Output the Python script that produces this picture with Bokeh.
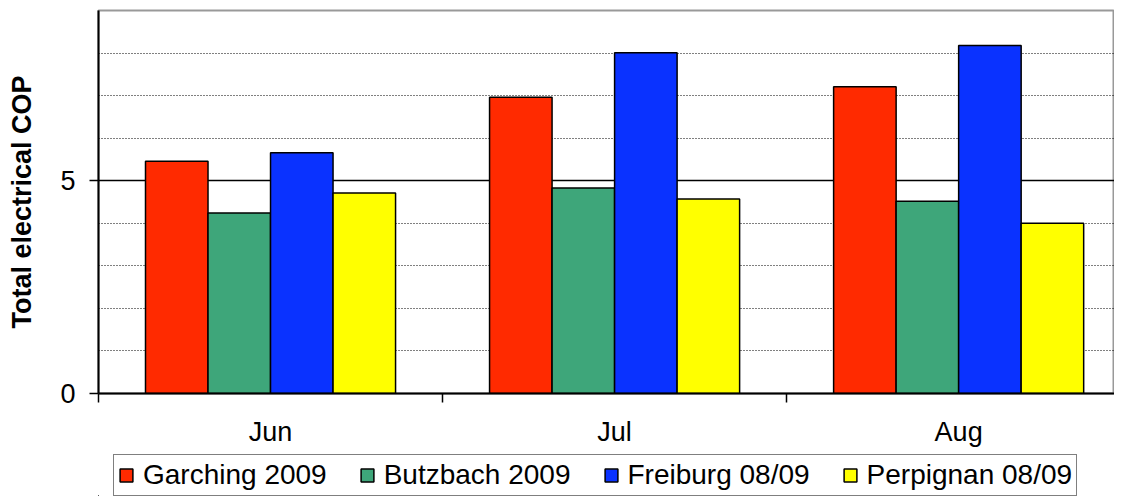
from bokeh.plotting import figure
from bokeh.layouts import column
from bokeh.models import ColumnDataSource, FixedTicker, Grid, Legend, LegendItem, Range1d
from bokeh.embed import file_html
from bokeh.resources import INLINE

months = ["Jun", "Jul", "Aug"]
series = ["Garching 2009", "Butzbach 2009", "Freiburg 08/09", "Perpignan 08/09"]
garching = [5.46, 6.96, 7.21]
butzbach = [4.24, 4.83, 4.52]
freiburg = [5.66, 8.01, 8.18]
perpignan = [4.71, 4.57, 4.00]
colors = ["#FF2A00", "#3EA67A", "#0A32FF", "#FFFF00"]

FONT = "Liberation Sans"

p = figure(width=1114, height=451, output_backend="svg", toolbar_location=None,
           x_range=Range1d(-0.5, 2.453), y_range=Range1d(0, 9),
           min_border_left=98, min_border_right=0, min_border_top=10, min_border_bottom=58)
p.outline_line_color = "#999999"
p.outline_line_width = 2
p.background_fill_color = "white"

xs = list(range(len(months)))
bw = 0.1817
offsets = [-1.5 * bw, -0.5 * bw, 0.5 * bw, 1.5 * bw]
vals = [garching, butzbach, freiburg, perpignan]

# grids
p.xgrid.visible = False
p.ygrid.ticker = FixedTicker(ticks=[5])
p.ygrid.grid_line_color = "black"
p.ygrid.grid_line_width = 1.5
g2 = Grid(dimension=1, ticker=FixedTicker(ticks=[1, 2, 3, 4, 6, 7, 8]),
          grid_line_color="black", grid_line_dash="1 2", grid_line_width=1)
p.add_layout(g2)

for name, v, off, c in zip(series, vals, offsets, colors):
    src = ColumnDataSource(dict(x=[xi + off for xi in xs], top=v))
    p.vbar(x="x", top="top", width=bw, bottom=0, source=src,
           fill_color=c, line_color="black", line_width=1.5)

# axes
p.xaxis.ticker = FixedTicker(ticks=xs, minor_ticks=[-0.5, 0.5, 1.5, 2.5])
p.xaxis.major_label_overrides = {i: m for i, m in enumerate(months)}
p.xaxis.major_tick_out = 0
p.xaxis.major_tick_in = 0
p.xaxis.minor_tick_out = 9
p.xaxis.minor_tick_in = 0
p.xaxis.minor_tick_line_color = "black"
p.xaxis.minor_tick_line_width = 1.5
p.xaxis.axis_line_color = "black"
p.xaxis.axis_line_width = 2
p.xaxis.major_label_text_font = FONT
p.xaxis.major_label_text_font_size = "27px"
p.xaxis.major_label_text_color = "black"
p.xaxis.major_label_standoff = 14

p.yaxis.ticker = FixedTicker(ticks=[0, 5], minor_ticks=[])
p.yaxis.major_tick_out = 9
p.yaxis.major_tick_in = 0
p.yaxis.major_tick_line_width = 1.5
p.yaxis.minor_tick_line_color = None
p.yaxis.axis_line_color = "black"
p.yaxis.axis_line_width = 2
p.yaxis.major_label_text_font = FONT
p.yaxis.major_label_text_font_size = "27px"
p.yaxis.major_label_text_color = "black"
p.yaxis.major_label_standoff = 14
p.yaxis.axis_label = "Total electrical COP"
p.yaxis.axis_label_text_font = FONT
p.yaxis.axis_label_text_font_size = "27px"
p.yaxis.axis_label_text_font_style = "bold"
p.yaxis.axis_label_text_color = "black"
p.yaxis.axis_label_standoff = 20

# legend strip below the chart (its own copies of the bars, kept outside its visible range)
q = figure(width=1114, height=45, output_backend="svg", toolbar_location=None,
           x_range=Range1d(100, 101), y_range=Range1d(100, 110),
           x_axis_location=None, y_axis_location=None,
           min_border_left=0, min_border_right=0, min_border_top=0, min_border_bottom=0)
q.grid.visible = False
q.outline_line_color = None
items = []
for name, v, off, c in zip(series, vals, offsets, colors):
    src = ColumnDataSource(dict(x=[xi + off for xi in xs], top=v))
    r = q.vbar(x="x", top="top", width=bw, bottom=0, source=src,
               fill_color=c, line_color="black", line_width=1.5)
    items.append(LegendItem(label=name, renderers=[r]))

legend = Legend(items=items, orientation="horizontal", location=(15, 0),
                border_line_color="black", border_line_width=1.5,
                background_fill_color="white", background_fill_alpha=1,
                label_text_font=FONT, label_text_font_size="28px", label_text_color="black",
                glyph_width=16, glyph_height=16, label_standoff=9, spacing=32,
                padding=4, label_height=30, margin=0)
q.add_layout(legend)

layout = column(p, q, spacing=0)
open("out.html", "w").write(file_html(layout, INLINE))
